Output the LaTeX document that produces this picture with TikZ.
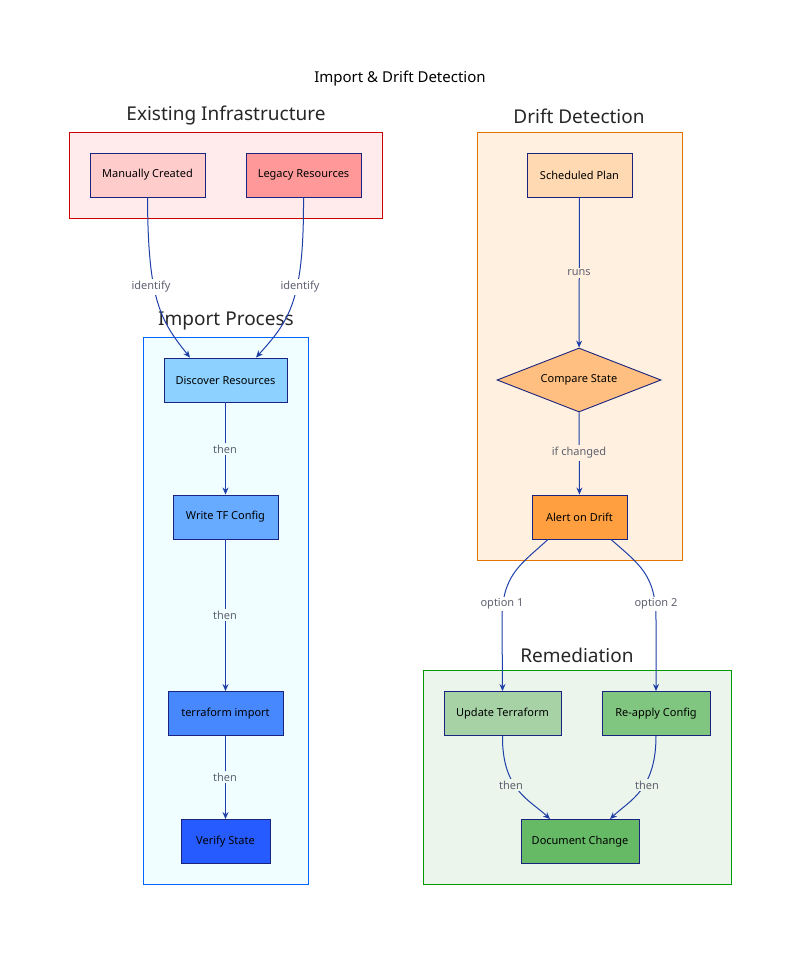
\documentclass[tikz,border=0pt]{standalone}
\usepackage{fontspec}
\setmainfont{Noto Sans}
\usetikzlibrary{shapes.geometric,arrows.meta}
\definecolor{navy}{HTML}{1A237E}
\definecolor{edge}{HTML}{1E3FA8}
\definecolor{lbl}{HTML}{5F6170}
\begin{document}
\begin{tikzpicture}[x=1pt,y=-1pt,
  nd/.style={draw=navy,line width=0.9pt,minimum height=44pt,font=\fontsize{11}{13}\selectfont,text=black},
  grp/.style={line width=1pt},
  gt/.style={font=\fontsize{19}{22}\selectfont,text=black!85},
  ed/.style={draw=edge,line width=1pt,-{Stealth[length=7pt,width=6pt]}},
  el/.style={font=\fontsize{11}{13}\selectfont,text=lbl,inner sep=2pt}]
\useasboundingbox (0,0) rectangle (800,954);
\node[font=\fontsize{15}{18}\selectfont] (title) at (400,79) {Import \& Drift Detection};
% groups
\draw[grp,draw=red!80!black,fill=red!8] (69,132) rectangle (382,218);
\node[gt] (g1) at (226,116) {Existing Infrastructure};
\draw[grp,draw=orange!90!black,fill=orange!12] (477,132) rectangle (682,560);
\node[gt] (g2) at (579,116) {Drift Detection};
\draw[grp,draw=blue!60!cyan,fill=blue!8!cyan!6] (143,337) rectangle (308,884);
\node[gt] (g3) at (226,321) {Import Process};
\draw[grp,draw=green!60!black,fill=green!50!black!8] (423,670) rectangle (731,884);
\node[gt] (g4) at (577,655) {Remediation};
% nodes
\node[nd,fill=red!20,minimum width=115pt] (mc) at (147.5,175) {Manually Created};
\node[nd,fill=red!40,minimum width=115pt] (lr) at (303.5,175) {Legacy Resources};
\node[nd,fill=orange!30,minimum width=105pt] (sp) at (579.5,175) {Scheduled Plan};
\node[nd,diamond,aspect=2.56,fill=orange!50,minimum width=164pt,minimum height=64pt,inner sep=0pt] (cs) at (579,380) {Compare State};
\node[nd,fill=orange!75,minimum width=95pt] (ad) at (579.5,517) {Alert on Drift};
\node[nd,fill=blue!40!cyan!45,minimum width=123pt] (dr) at (225.5,380) {Discover Resources};
\node[nd,fill=blue!55!cyan!60,minimum width=105pt] (wt) at (225.5,517) {Write TF Config};
\node[nd,fill=blue!65!cyan!72,minimum width=115pt] (ti) at (225.5,713.5) {terraform import};
\node[nd,fill=blue!75!cyan!85,minimum width=89pt] (vs) at (225.5,841.5) {Verify State};
\node[nd,fill=green!50!black!35,minimum width=117pt] (ut) at (502.5,713.5) {Update Terraform};
\node[nd,fill=green!55!black!50,minimum width=108pt] (rc) at (656,713.5) {Re-apply Config};
\node[nd,fill=green!55!black!60,minimum width=118pt] (dc) at (580,841.5) {Document Change};
% edges
\draw[ed] (mc.south) .. controls (148,300) and (160,320) .. (dr.north west -| 190,358);
\node[el,fill=white] (l1) at (151,287) {identify};
\draw[ed] (lr.south) .. controls (304,300) and (290,320) .. (dr.north east -| 256,358);
\node[el,fill=white] (l2) at (300,287) {identify};
\draw[ed] (sp) -- (cs);
\node[el,fill=orange!12] (l3) at (579,273) {runs};
\draw[ed] (cs) -- (ad);
\node[el,fill=orange!12] (l4) at (579,453) {if changed};
\draw[ed] (dr) -- (wt);
\node[el,fill=blue!8!cyan!6] (l5) at (225,449) {then};
\draw[ed] (wt) -- (ti);
\node[el,fill=blue!8!cyan!6] (l6) at (225,615) {then};
\draw[ed] (ti) -- (vs);
\node[el,fill=blue!8!cyan!6] (l7) at (225,777) {then};
\draw[ed] (ad.south west -| 548,539) .. controls (520,565) and (502,575) .. (502,620) -- (ut.north);
\node[el,fill=white] (l8) at (502,604) {option 1};
\draw[ed] (ad.south east -| 611,539) .. controls (640,565) and (656,575) .. (656,620) -- (rc.north);
\node[el,fill=white] (l9) at (656,604) {option 2};
\draw[ed] (ut.south) .. controls (502,790) and (530,800) .. (dc.north -| 550,819);
\node[el,fill=green!50!black!8] (l10) at (511,785) {then};
\draw[ed] (rc.south) .. controls (656,790) and (630,800) .. (dc.north -| 610,819);
\node[el,fill=green!50!black!8] (l11) at (647,785) {then};
\end{tikzpicture}
\end{document}
